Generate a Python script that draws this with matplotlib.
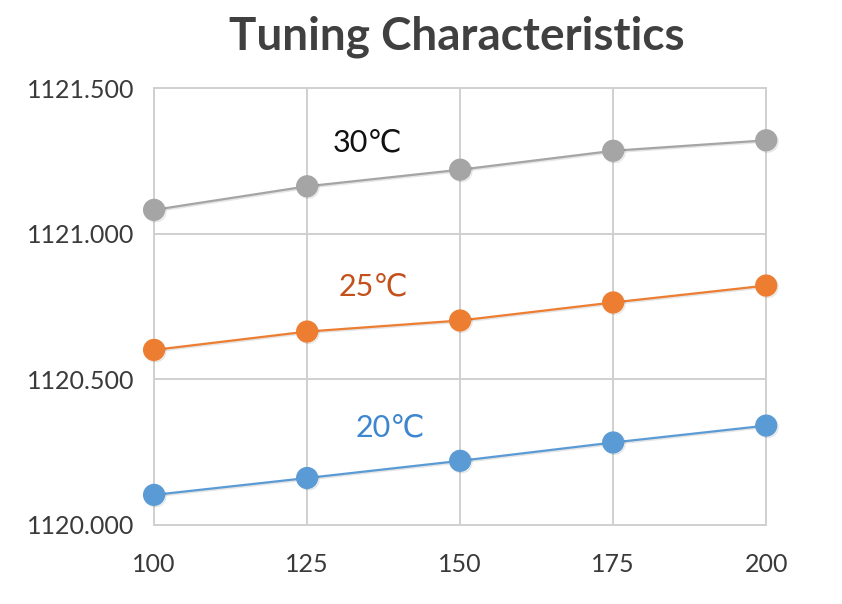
import matplotlib
matplotlib.use("Agg")
import matplotlib.pyplot as plt
import matplotlib.patheffects as pe

# Data
x_values = [100, 125, 150, 175, 200]
temp_30 = [1121.082, 1121.163, 1121.220, 1121.285, 1121.321]
temp_25 = [1120.601, 1120.664, 1120.702, 1120.764, 1120.822]
temp_20 = [1120.103, 1120.161, 1120.220, 1120.283, 1120.341]
y_ticks = [1120.0, 1120.5, 1121.0, 1121.5]
series_labels = ["30\u2103", "25\u2103", "20\u2103"]

plt.rcParams['font.family'] = ['Lato', 'DejaVu Sans']

fig = plt.figure(figsize=(8.42, 6.04), dpi=100)
ax = fig.add_axes([0.183, 0.131, 0.727, 0.723])

shadow = [pe.SimpleLineShadow(offset=(1.0, -1.0), shadow_color="#000000", alpha=0.10), pe.Normal()]

series = [
    (temp_30, "#a5a5a5"),
    (temp_25, "#ed7d31"),
    (temp_20, "#5b9bd5"),
]
for values, color in series:
    ax.plot(x_values, values, color=color, linewidth=1.6,
            marker="o", markersize=15, markerfacecolor=color,
            markeredgecolor=color, clip_on=False, zorder=3,
            path_effects=shadow)

# series labels placed inside the plot
ax.text(134.8, 1121.313, series_labels[0], color="#111111", fontsize=22, ha="center", va="center")
ax.text(135.8, 1120.818, series_labels[1], color="#c4501c", fontsize=22, ha="center", va="center")
ax.text(138.6, 1120.333, series_labels[2], color="#3c86cf", fontsize=22, ha="center", va="center")

ax.set_xlim(100, 200)
ax.set_ylim(1120.0, 1121.5)
ax.set_xticks(x_values)
ax.set_yticks(y_ticks)
ax.set_yticklabels([f"{v:.3f}" for v in y_ticks])

ax.grid(True, color="#d0d0d0", linewidth=1.4)
ax.set_axisbelow(True)
for spine in ax.spines.values():
    spine.set_color("#d0d0d0")
    spine.set_linewidth(1.4)
ax.tick_params(length=0, labelsize=18, labelcolor="#3a3a3a")
ax.tick_params(axis="x", pad=20)
ax.tick_params(axis="y", pad=14)

fig.suptitle("Tuning Characteristics", x=0.543, y=0.975, fontsize=33,
             fontweight="bold", color="#404040")

fig.savefig("out.png", dpi=100)
plt.close(fig)
